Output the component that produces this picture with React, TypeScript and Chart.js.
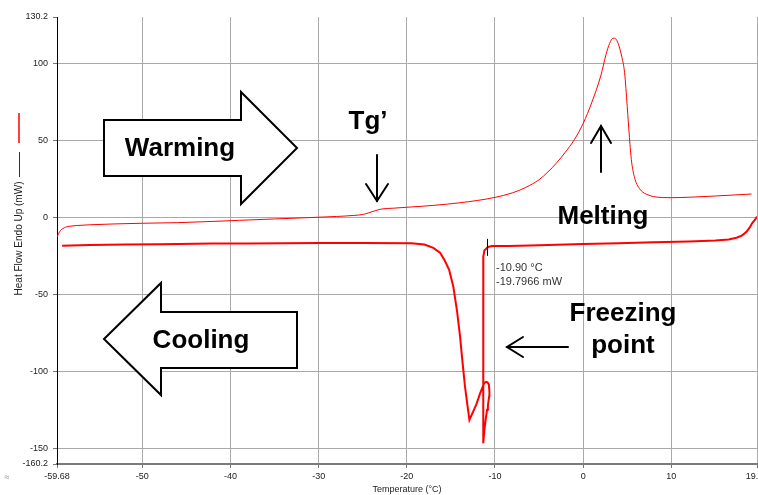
import React, { useEffect, useRef } from 'react';
import { Chart, registerables } from 'chart.js';

Chart.register(...registerables);

// ---- data ----
const xTickValues = [-59.68, -50, -40, -30, -20, -10, 0, 10, 19.72];
const yTickValues = [130.2, 100, 50, 0, -50, -100, -150, -160.2];

// Warming (heating) scan, thin line
const warmT = [-59.68, -59.5, -59.3, -59.0, -58.7, -58.2, -57.5, -56, -53, -50, -46, -42, -39, -35, -31, -28, -26, -25, -24.3, -23.5, -22.8, -21.5, -20, -17, -14, -12, -10, -8, -6.5, -5, -4, -3, -2, -1, 0, 1, 2, 2.6, 3.0, 3.4, 3.7, 4.0, 4.4, 4.7, 5.0, 5.25, 5.5, 5.9, 6.3, 6.7, 7.2, 8.0, 9.0, 10, 12, 15, 19.1];
const warmV = [-12.9, -10.5, -8.6, -7.2, -6.3, -5.7, -5.3, -4.8, -4.2, -3.8, -3.4, -2.6, -1.9, -1.0, -0.1, 0.6, 1.3, 1.9, 3.0, 4.5, 5.5, 6.0, 6.6, 7.8, 9.5, 11.0, 13.0, 16, 19.5, 24.5, 29.5, 35.5, 42.5, 50.5, 61, 75, 92, 106, 113, 116.4, 116, 112.5, 104, 94, 72, 52, 36, 24.5, 19.5, 16.7, 15, 13.5, 12.9, 12.8, 13.1, 13.9, 15.2];

// Cooling scan, thick line (in time order, from warm end to cold end)
const coolT = [19.72, 19.5, 19.2, 18.9, 18.5, 18.0, 17.4, 16.5, 15.0, 12.0, 8.0, 4.0, 0.0, -3.0, -6.0, -8.5, -10.3, -10.7, -10.9, -11.2, -11.32, -11.34, -11.32, -11.2, -11.05, -10.9, -10.8, -10.65, -10.63, -10.7, -10.85, -11.01, -11.2, -11.32, -11.7, -12.07, -12.5, -12.9, -13.15, -13.4, -13.7, -13.96, -14.3, -14.72, -15.2, -15.7, -16.23, -17.0, -18.0, -19.5, -25, -30, -38, -42, -48, -52, -56, -59.1];
const coolV = [0.5, -1.5, -3.5, -6.5, -9.5, -11.8, -13.2, -14.3, -15.0, -15.6, -16.2, -16.8, -17.3, -17.8, -18.2, -18.5, -18.6, -19.0, -19.8, -21.5, -25.5, -85, -146.8, -138, -131, -125, -121.9, -116, -113, -108.5, -107.2, -106.8, -107.5, -108.9, -114.5, -120.8, -126.5, -131.6, -121, -110, -93, -77.5, -61, -45.2, -34, -28, -23, -19.8, -17.6, -16.8, -16.7, -16.6, -16.9, -17.0, -17.4, -17.6, -18.0, -18.4];

const markerT = -10.9;
const markerV = -19.7966;
const markerLabels = ['-10.90 °C', '-19.7966 mW'];
const xTitle = 'Temperature (°C)';
const yTitle = 'Heat Flow Endo Up (mW)';

const RED = '#ff0000';
const GRID = '#a9a9a9';

function poly(ctx: CanvasRenderingContext2D, pts: number[][]) {
  ctx.beginPath();
  ctx.moveTo(pts[0][0], pts[0][1]);
  for (let i = 1; i < pts.length; i++) ctx.lineTo(pts[i][0], pts[i][1]);
  ctx.closePath();
  ctx.fillStyle = '#ffffff';
  ctx.fill();
  ctx.lineWidth = 2;
  ctx.strokeStyle = '#000';
  ctx.lineJoin = 'miter';
  ctx.stroke();
}

function seg(ctx: CanvasRenderingContext2D, pts: number[][]) {
  ctx.beginPath();
  ctx.moveTo(pts[0][0], pts[0][1]);
  for (let i = 1; i < pts.length; i++) ctx.lineTo(pts[i][0], pts[i][1]);
  ctx.stroke();
}

const decorPlugin = {
  id: 'decor',
  afterDraw(chart: any) {
    const ctx: CanvasRenderingContext2D = chart.ctx;
    const xs = chart.scales.x;
    const ys = chart.scales.y;
    const area = chart.chartArea;
    ctx.save();

    // y-axis title with legend strokes
    ctx.lineCap = 'butt';
    ctx.strokeStyle = RED;
    ctx.lineWidth = 1.5;
    seg(ctx, [[19, 113], [19, 143]]);
    ctx.strokeStyle = '#333';
    ctx.lineWidth = 1;
    seg(ctx, [[19.5, 152], [19.5, 177]]);
    ctx.save();
    ctx.translate(19, (area.top + area.bottom) / 2 - 2);
    ctx.rotate(-Math.PI / 2);
    ctx.fillStyle = '#222';
    ctx.font = '10px Arial, "Liberation Sans", sans-serif';
    ctx.textAlign = 'center';
    ctx.textBaseline = 'middle';
    ctx.fillText(yTitle, 0, 0);
    ctx.restore();

    // x-axis title
    ctx.fillStyle = '#222';
    ctx.font = '9px Arial, "Liberation Sans", sans-serif';
    ctx.textAlign = 'center';
    ctx.textBaseline = 'middle';
    ctx.fillText(xTitle, (area.left + area.right) / 2, 490);
    ctx.fillStyle = '#888';
    ctx.fillText('≈', 7, 478);

    // block arrows
    poly(ctx, [[104, 120], [241, 120], [241, 92], [297, 148], [241, 204], [241, 176], [104, 176]]);
    poly(ctx, [[104, 339], [161, 283], [161, 312], [297, 312], [297, 368], [161, 368], [161, 395]]);

    ctx.fillStyle = '#000';
    ctx.font = 'bold 26px Arial, "Liberation Sans", sans-serif';
    ctx.textAlign = 'center';
    ctx.textBaseline = 'alphabetic';
    ctx.fillText('Warming', 180, 156);
    ctx.fillText('Cooling', 201, 348);
    ctx.fillText('Tg\u2019', 368, 129);
    ctx.fillText('Melting', 603, 224);
    ctx.fillText('Freezing', 623, 321);
    ctx.fillText('point', 623, 353);

    // thin arrows
    ctx.strokeStyle = '#000';
    ctx.lineWidth = 2;
    ctx.lineCap = 'round';
    seg(ctx, [[377, 155], [377, 201]]);
    seg(ctx, [[366, 184], [377, 201], [388, 184]]);
    seg(ctx, [[601, 172], [601, 126]]);
    seg(ctx, [[591, 143], [601, 126], [611, 143]]);
    seg(ctx, [[568, 347], [507, 347]]);
    seg(ctx, [[523, 337], [507, 347], [523, 357]]);

    // marker at freezing point
    const px = xs.getPixelForValue(markerT);
    const py = ys.getPixelForValue(markerV);
    ctx.lineCap = 'butt';
    ctx.lineWidth = 1;
    ctx.strokeStyle = '#000';
    seg(ctx, [[Math.round(px) + 0.5, py - 9], [Math.round(px) + 0.5, py + 8]]);
    ctx.fillStyle = '#333';
    ctx.font = '11px Arial, "Liberation Sans", sans-serif';
    ctx.textAlign = 'left';
    ctx.fillText(markerLabels[0], px + 9, py + 23.5);
    ctx.fillText(markerLabels[1], px + 9, py + 37.5);

    ctx.restore();
  },
};

export default function App() {
  const ref = useRef<HTMLCanvasElement | null>(null);
  useEffect(() => {
    if (!ref.current) return;
    const warm = warmT.map((t, i) => ({ x: t, y: warmV[i] }));
    const cool = coolT.map((t, i) => ({ x: t, y: coolV[i] }));
    const chart = new Chart(ref.current, {
      type: 'line',
      data: {
        datasets: [
          {
            label: 'Cooling',
            data: cool,
            borderColor: RED,
            borderWidth: 2,
            pointRadius: 0,
            tension: 0,
            fill: false,
          },
          {
            label: 'Warming',
            data: warm,
            borderColor: RED,
            borderWidth: 1,
            pointRadius: 0,
            cubicInterpolationMode: 'monotone',
            fill: false,
          },
        ],
      },
      options: {
        animation: false,
        responsive: false,
        parsing: false as any,
        normalized: true,
        layout: { padding: { left: 0, right: 1, top: 17, bottom: 0 } },
        plugins: {
          legend: { display: false },
          tooltip: { enabled: false },
        },
        scales: {
          x: {
            type: 'linear',
            min: xTickValues[0],
            max: xTickValues[xTickValues.length - 1],
            afterBuildTicks: (scale: any) => {
              scale.ticks = xTickValues.map((v) => ({ value: v }));
            },
            afterFit: (scale: any) => {
              scale.height = 31;
              scale.paddingLeft = 0;
              scale.paddingRight = 0;
            },
            ticks: {
              autoSkip: false,
              maxRotation: 0,
              minRotation: 0,
              padding: 3,
              color: '#222',
              font: { family: 'Arial, "Liberation Sans", sans-serif', size: 9 },
              callback: (v: any) => String(v),
            },
            grid: {
              color: GRID,
              lineWidth: 1,
              tickLength: 4,
              tickColor: '#777',
            },
            border: { color: '#7a7a7a', width: 2 },
          },
          y: {
            type: 'linear',
            min: yTickValues[yTickValues.length - 1],
            max: yTickValues[0],
            afterBuildTicks: (scale: any) => {
              scale.ticks = yTickValues.map((v) => ({ value: v }));
            },
            afterFit: (scale: any) => {
              scale.width = 57;
              scale.paddingTop = 0;
              scale.paddingBottom = 0;
            },
            ticks: {
              autoSkip: false,
              padding: 5,
              color: '#222',
              font: { family: 'Arial, "Liberation Sans", sans-serif', size: 9 },
              callback: (v: any) => String(v),
            },
            grid: {
              color: (c: any) => (c.tick && c.tick.value === yTickValues[0] ? 'rgba(0,0,0,0)' : GRID),
              lineWidth: 1,
              tickLength: 4,
              tickColor: '#777',
            },
            border: { color: '#000', width: 1 },
          },
        },
      } as any,
      plugins: [decorPlugin],
    });
    return () => chart.destroy();
  }, []);

  return (
    <div style={{ position: 'absolute', left: 0, top: 0, width: 758, height: 495, background: '#fff' }}>
      <canvas ref={ref} width={758} height={495} style={{ display: 'block', width: 758, height: 495 }} />
    </div>
  );
}
